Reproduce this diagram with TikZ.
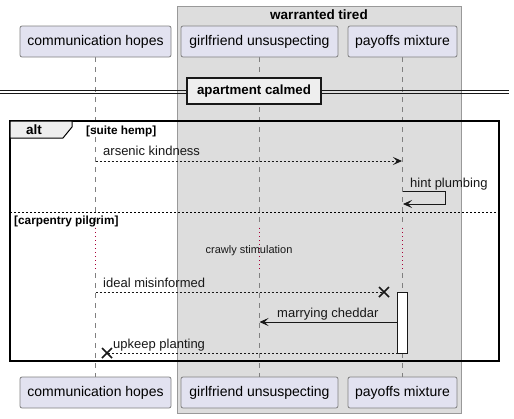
\documentclass[tikz,border=0pt]{standalone}
\usepackage{fontspec}
\setmainfont{Liberation Sans}
\usetikzlibrary{arrows.meta,calc}
\definecolor{partfill}{HTML}{E2E2F0}
\definecolor{partline}{HTML}{808080}
\definecolor{boxfill}{HTML}{DDDDDD}
\definecolor{boxline}{HTML}{999999}
\definecolor{tabfill}{HTML}{EEEEEE}
\definecolor{delaycol}{HTML}{A80036}
\definecolor{ink}{HTML}{181818}
\tikzset{
  x=1pt,y=-1pt,
  part/.style={draw=partline,fill=partfill,rounded corners=2pt,minimum height=31pt,inner xsep=0pt,font=\fontsize{14}{16}\selectfont,line width=0.8pt},
  life/.style={draw=partline,dash pattern=on 5pt off 5pt,line width=0.8pt},
  delayline/.style={draw=delaycol,dash pattern=on 1pt off 3pt,line width=1pt},
  msg/.style={font=\fontsize{13}{15}\selectfont,inner sep=0pt,anchor=base west,text=ink},
  arr/.style={draw=ink,line width=0.8pt,-{Stealth[length=9pt,width=8pt,inset=4pt]}},
  dmsg/.style={arr,dash pattern=on 2pt off 2pt},
  crossmark/.style={draw=ink,line width=1.6pt},
  boldtxt/.style={font=\bfseries\fontsize{13.5}{15}\selectfont,inner sep=0pt,text=black},
  guard/.style={font=\bfseries\fontsize{11.8}{13}\selectfont,inner sep=0pt,anchor=base west},
}
\begin{document}
\begin{tikzpicture}
\useasboundingbox (0,0) rectangle (514,418);
\fill[white] (0,0) rectangle (514,418);
% group box
\draw[fill=boxfill,draw=boxline,line width=0.8pt] (177,6) rectangle (461,413);
\node[boldtxt,anchor=base] (grp) at (319,19.5) {warranted tired};
% lifelines (with delay)
\draw[life] (95.5,57) -- (95.5,227);
\draw[delayline] (95.5,228) -- (95.5,272);
\draw[life] (95.5,273) -- (95.5,377);
\draw[life] (259,57) -- (259,227);
\draw[delayline] (259,228) -- (259,272);
\draw[life] (259,273) -- (259,377);
\draw[life] (402.5,57) -- (402.5,227);
\draw[delayline] (402.5,228) -- (402.5,272);
\draw[life] (402.5,273) -- (402.5,377);
% participants top
\node[part,minimum width=151pt] (A) at (95.5,41.5) {communication hopes};
\node[part,minimum width=157pt] (B) at (259.5,41.5) {girlfriend unsuspecting};
\node[part,minimum width=109pt] (C) at (402.5,41.5) {payoffs mixture};
% participants bottom
\node[part,minimum width=151pt] (Ab) at (95.5,392.5) {communication hopes};
\node[part,minimum width=157pt] (Bb) at (259.5,392.5) {girlfriend unsuspecting};
\node[part,minimum width=109pt] (Cb) at (402.5,392.5) {payoffs mixture};
% divider
\draw[ink,line width=0.8pt] (0,90.5) -- (509,90.5);
\draw[ink,line width=0.8pt] (0,93) -- (509,93);
\node[draw=ink,line width=1.6pt,fill=tabfill,minimum width=134pt,minimum height=26pt,inner sep=0pt,font=\bfseries\fontsize{13.3}{15}\selectfont] (div) at (254,91) {apartment calmed};
% alt frame
\draw[black,line width=1.5pt] (10,121) rectangle (499,361);
\draw[black,line width=1pt,fill=tabfill] (10,121) -- (72,121) -- (72,127) -- (63,138) -- (10,138) -- cycle;
\node[boldtxt,anchor=base] (altlbl) at (34,134.5) {alt};
\node[guard] (g1) at (86,134) {[suite hemp]};
\draw[black,line width=0.8pt,dash pattern=on 2pt off 2pt] (10,212.5) -- (499,212.5);
\node[guard] (g2) at (14,224.5) {[carpentry pilgrim]};
% messages
\coordinate (m1s) at (95.5,161);
\coordinate (m1e) at (402,161);
\draw[dmsg] (m1s) -- (m1e);
\node[msg] (t1) at (103,155.5) {arsenic kindness};
\coordinate (m2s) at (402.5,191);
\coordinate (m2e) at (403,204);
\draw[arr] (m2s) -- (445,191) -- (445,204) -- (m2e);
\node[msg] (t2) at (410,187.5) {hint plumbing};
% delay text
\node[font=\fontsize{11}{13}\selectfont,inner sep=0pt,anchor=base,text=ink] (dl) at (249,253.5) {crawly stimulation};
% activation
\node[draw=ink,fill=white,line width=0.8pt,minimum width=10pt,minimum height=61pt,inner sep=0pt,anchor=north] (act) at (402.5,292) {};
% ideal misinformed
\coordinate (m3s) at (95.5,292);
\coordinate (x1) at (384,292);
\draw[ink,line width=0.8pt,dash pattern=on 2pt off 2pt] (m3s) -- (x1);
\draw[crossmark] ($(x1)+(-5,-5)$) -- ($(x1)+(5,5)$);
\draw[crossmark] ($(x1)+(-5,5)$) -- ($(x1)+(5,-5)$);
\node[msg] (t3) at (103,287.5) {ideal misinformed};
% marrying cheddar
\coordinate (m4s) at (397.5,322);
\coordinate (m4e) at (259.5,322);
\draw[arr] (m4s) -- (m4e);
\node[msg] (t4) at (277,317.5) {marrying cheddar};
% upkeep planting
\coordinate (m5s) at (397.5,353);
\coordinate (x2) at (107,353);
\draw[ink,line width=0.8pt,dash pattern=on 2pt off 2pt] (m5s) -- (x2);
\draw[crossmark] ($(x2)+(-5,-5)$) -- ($(x2)+(5,5)$);
\draw[crossmark] ($(x2)+(-5,5)$) -- ($(x2)+(5,-5)$);
\node[msg] (t5) at (113,348.5) {upkeep planting};
\end{tikzpicture}
\end{document}
